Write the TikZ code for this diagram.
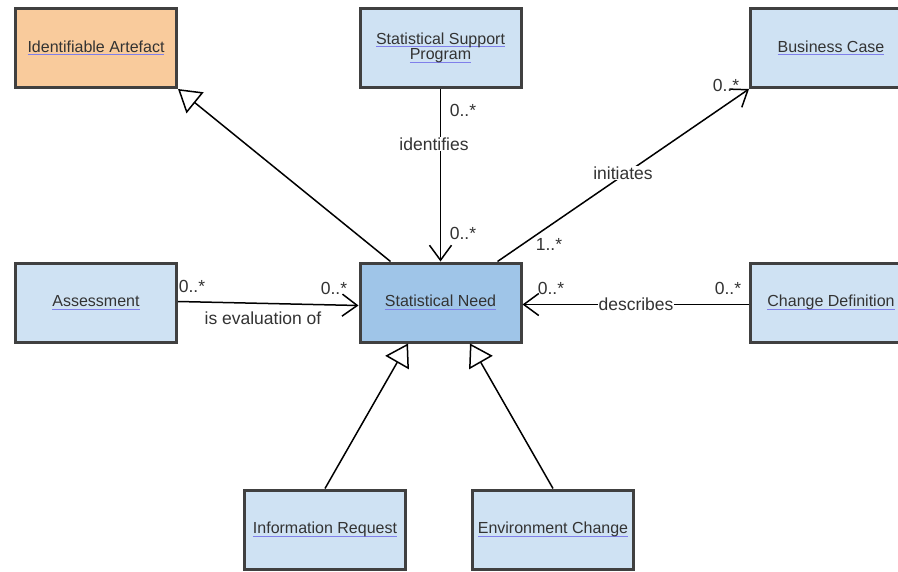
\documentclass[tikz,border=0pt]{standalone}
\usepackage{fontspec}
\setmainfont{Liberation Sans}
\usetikzlibrary{arrows.meta,calc}
\definecolor{boxborder}{HTML}{404040}
\definecolor{lightblue}{HTML}{CFE2F3}
\definecolor{midblue}{HTML}{9FC5E8}
\definecolor{peach}{HTML}{F9CB9C}
\definecolor{txt}{HTML}{333333}
\definecolor{ulblue}{HTML}{7F7FEA}
\newcommand\lnk[1]{\setbox0\hbox{#1}\rlap{\color{ulblue}\rule[-2.8pt]{\wd0}{0.9pt}}\box0}
\tikzset{
 cls/.style={draw=boxborder, line width=3pt, fill=lightblue, minimum width=161pt, minimum height=79pt, align=center, text=txt, font=\fontsize{16}{15.5}\selectfont, inner sep=2pt},
 conn/.style={line width=1.5pt, draw=black},
 gen/.style={conn, -{Triangle[open, length=22pt, width=27pt]}},
 assoc/.style={conn, -{Straight Barb[length=15pt, width=22pt]}},
 lbl/.style={text=txt, font=\fontsize{17.5}{19}\selectfont, inner sep=1pt},
 lblbg/.style={lbl, fill=white},
}
\begin{document}
\begin{tikzpicture}[x=1pt,y=1pt]
\useasboundingbox (0,0) rectangle (898,-571);
\fill[white] (0,0) rectangle (898,-571);
% classes
\node[cls, fill=peach] (ia) at (96,-48) {\lnk{Identifiable Artefact}};
\node[cls] (ssp) at (440.5,-48) {\lnk{Statistical Support}\\\lnk{Program}};
\node[cls] (bc) at (831,-48) {\lnk{Business Case}};
\node[cls] (as) at (96,-302.5) {\lnk{Assessment}};
\node[cls, fill=midblue] (sn) at (440.5,-302.5) {\lnk{Statistical Need}};
\node[cls] (cd) at (831,-302.5) {\lnk{Change Definition}};
\node[cls] (ir) at (325,-529.5) {\lnk{Information Request}};
\node[cls] (ec) at (553,-529.5) {\lnk{Environment Change}};
% generalizations
\draw[gen] ($(sn.north)+(-50,0)$) -- (ia.south east);
\draw[gen] (ir.north) -- ($(sn.south)+(-32.5,0)$);
\draw[gen] (ec.north) -- ($(sn.south)+(29.5,0)$);
% associations
\draw[assoc] (ssp.south) -- (sn.north);
\node[lblbg] (l-id) at (434,-144) {identifies};
\node[lbl] (m-id1) at (463,-110) {0..*};
\node[lbl] (m-id2) at (463,-233) {0..*};

\draw[assoc] ($(sn.north)+(57,0)$) -- (bc.south west);
\node[lblbg] (l-in) at (623,-173) {initiates};
\node[lbl] (m-in1) at (726,-85) {0..*};
\node[lbl] (m-in2) at (549,-244) {1..*};

\draw[assoc] ($(as.east)+(0,1)$) -- ($(sn.west)+(0,-3)$);
\node[lbl] (l-ev) at (263,-318) {is evaluation of};
\node[lbl] (m-ev1) at (192,-286) {0..*};
\node[lbl] (m-ev2) at (334,-288) {0..*};

\draw[assoc] ($(cd.west)+(0,-2)$) -- ($(sn.east)+(0,-2)$);
\node[lblbg] (l-de) at (636,-304) {describes};
\node[lbl] (m-de1) at (551,-288) {0..*};
\node[lbl] (m-de2) at (728,-288) {0..*};
\end{tikzpicture}
\end{document}
